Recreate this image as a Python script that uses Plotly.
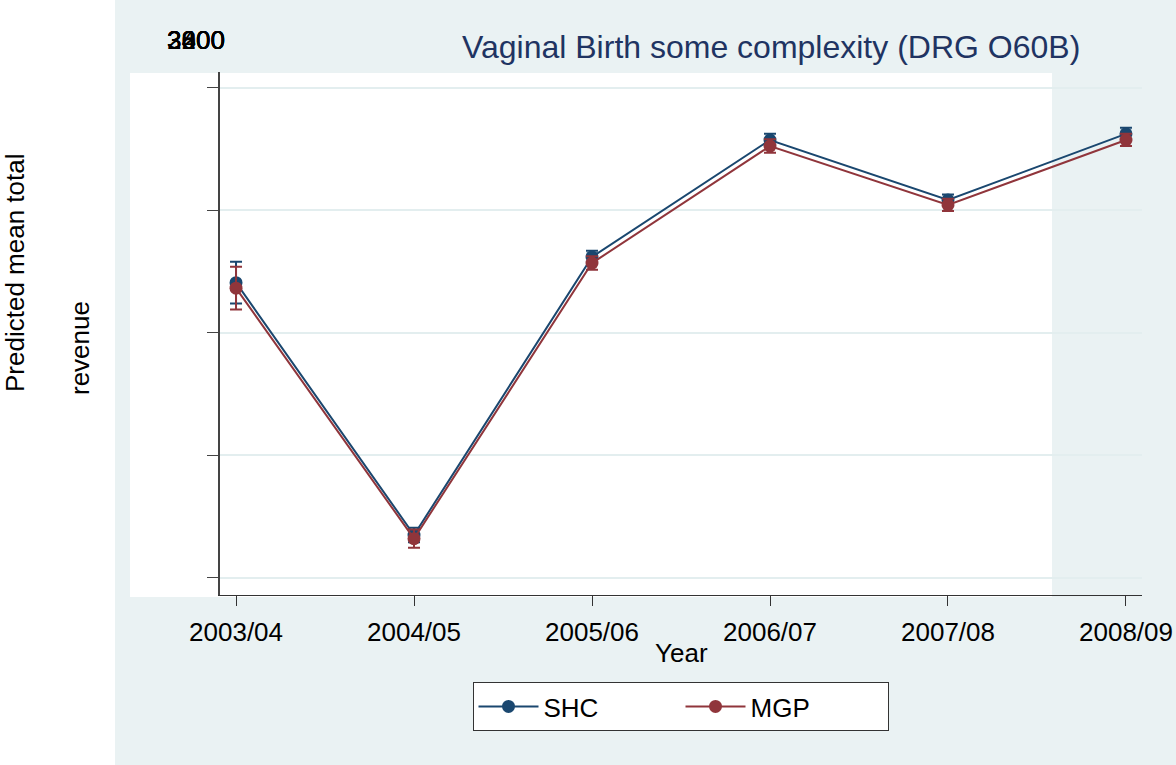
import plotly.graph_objects as go

years = ["2003/04", "2004/05", "2005/06", "2006/07", "2007/08", "2008/09"]
shc = [3282, 2870, 3324, 3515, 3417, 3525]
shc_err = [34, 12, 10, 10, 9, 10]
mgp = [3273, 2864, 3314, 3505, 3409, 3515]
mgp_err = [35, 15, 11, 11, 10, 10]
ytick_vals = [2800, 3000, 3200, 3400, 3600]
ytick_text = ["2800", "3000", "3200", "3400", "3600"]

SHC_C = "#1a476f"
MGP_C = "#90353b"
TITLE_C = "#1f3462"
BG = "#eaf2f3"

W, H = 1176, 765
L, R, T, B = 220, 1142, 72, 595


def px(p):
    return (p - L) / (R - L)


def py(p):
    return (B - p) / (B - T)


xi = list(range(len(years)))

fig = go.Figure()
fig.add_trace(go.Scatter(
    x=xi, y=shc, name="SHC", mode="lines+markers",
    line=dict(color=SHC_C, width=2),
    marker=dict(color=SHC_C, size=13),
    error_y=dict(type="data", array=shc_err, color=SHC_C, thickness=2, width=6),
))
fig.add_trace(go.Scatter(
    x=xi, y=mgp, name="MGP", mode="lines+markers",
    line=dict(color=MGP_C, width=2),
    marker=dict(color=MGP_C, size=13),
    error_y=dict(type="data", array=mgp_err, color=MGP_C, thickness=2, width=6),
))

shapes = [
    dict(type="rect", xref="paper", yref="paper", x0=px(115), x1=px(1190),
         y0=py(780), y1=py(-10), fillcolor=BG, line=dict(width=0), layer="below"),
    dict(type="rect", xref="paper", yref="paper", x0=px(130), x1=px(1052),
         y0=py(597), y1=py(73), fillcolor="white", line=dict(width=0), layer="below"),
]

annotations = [
    dict(text="Vaginal Birth some complexity (DRG O60B)", xref="paper", yref="paper",
         x=px(771), y=py(47), showarrow=False, xanchor="center", yanchor="middle",
         font=dict(size=32, color=TITLE_C)),
    dict(text="Predicted mean total", xref="paper", yref="paper",
         x=px(15), y=py(273), showarrow=False, textangle=-90,
         xanchor="center", yanchor="middle", font=dict(size=26, color="black")),
    dict(text="revenue", xref="paper", yref="paper",
         x=px(80), y=py(348), showarrow=False, textangle=-90,
         xanchor="center", yanchor="middle", font=dict(size=26, color="black")),
    dict(text="Year", xref="paper", yref="paper",
         x=px(681), y=py(653), showarrow=False,
         xanchor="center", yanchor="middle", font=dict(size=26, color="black")),
]
for t in ytick_text:
    annotations.append(dict(text=t, xref="paper", yref="paper",
                            x=px(196), y=py(40), showarrow=False,
                            xanchor="center", yanchor="middle",
                            font=dict(size=26, color="black")))

fig.update_layout(
    width=W, height=H, autosize=False,
    margin=dict(l=L, r=W - R, t=T, b=H - B, pad=0, autoexpand=False),
    paper_bgcolor="white",
    plot_bgcolor="rgba(0,0,0,0)",
    font=dict(family="Liberation Sans, Arial, sans-serif", size=26, color="black"),
    shapes=shapes,
    annotations=annotations,
    showlegend=True,
    legend=dict(orientation="h", x=px(680.5), y=py(682), xanchor="center", yanchor="top",
                bgcolor="white", bordercolor="#333333", borderwidth=1,
                font=dict(size=26, color="black"), itemwidth=60,
                entrywidth=132),
    xaxis=dict(
        range=[-0.09, 5.09], tickvals=xi, ticktext=years, automargin=False,
        showgrid=False, zeroline=False,
        showline=True, linecolor="#333333", linewidth=1,
        ticks="outside", ticklen=10, tickcolor="#333333",
        ticklabelstandoff=4,
        tickfont=dict(size=26, color="black"),
    ),
    yaxis=dict(
        range=[2772, 3626], tickvals=ytick_vals, showticklabels=False, automargin=False,
        showgrid=True, gridcolor="#e3eeef", gridwidth=2, zeroline=False,
        showline=True, linecolor="#444444", linewidth=2,
        ticks="outside", ticklen=11, tickcolor="#444444",
    ),
)

fig.write_html(
    "out.html",
    config={"displayModeBar": False, "responsive": False},
    post_script="document.body.style.margin='0';document.body.style.overflow='hidden';",
)
